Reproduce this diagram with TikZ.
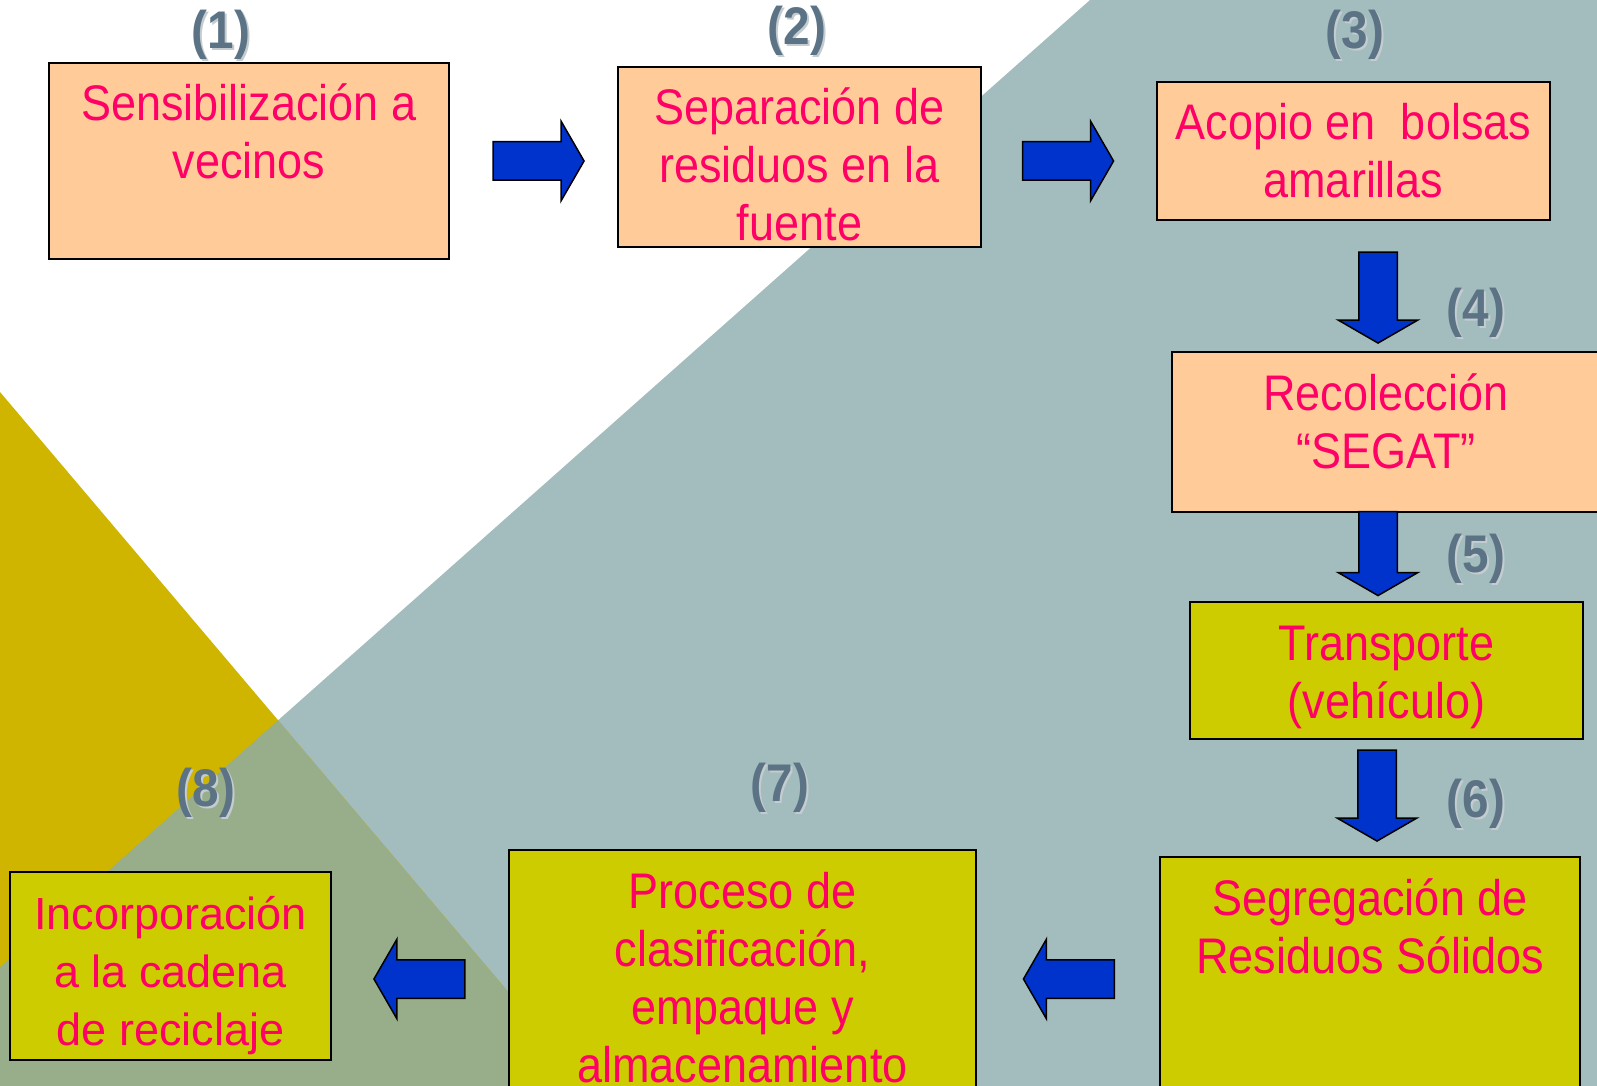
\documentclass[tikz,border=0pt]{standalone}
\usepackage{fontspec}
\usepackage{tikz}
\usetikzlibrary{shapes,arrows}
\usetikzlibrary{positioning}
\newfontfamily\condfont[FakeStretch=0.9]{Liberation Sans}
\newfontfamily\arialfont{Liberation Sans}
\definecolor{peach}{HTML}{FFCC99}
\definecolor{lime}{HTML}{CCCC00}
\definecolor{pinktext}{HTML}{FF0066}
\definecolor{arrowblue}{HTML}{0033CC}
\definecolor{numgrey}{HTML}{5B7384}
\definecolor{numshadow}{HTML}{C4CCD0}
\definecolor{bgteal}{HTML}{A3BCBE}
\definecolor{bgyellow}{HTML}{CFB400}
\definecolor{bgolive}{HTML}{98AE8B}
\tikzset{x=1pt, y=-1pt, font=\condfont}
\tikzstyle{box} = [draw, line width=2pt, anchor=north west, inner sep=0pt, align=flush center, text=pinktext, text height=58pt, font=\condfont\fontsize{50}{58}\selectfont]
\tikzstyle{peachbox} = [box, fill=peach]
\tikzstyle{limebox} = [box, fill=lime]
\tikzstyle{blockarrow} = [draw, line width=1.5pt, fill=arrowblue, single arrow, inner sep=18.5pt, minimum height=91pt, single arrow head extend=20.5pt, single arrow tip angle=120, single arrow head indent=0pt]
\tikzstyle{number} = [text=numgrey, font=\condfont\bfseries\fontsize{53}{53}\selectfont]
\newcommand{\numtxt}[1]{\rlap{\kern2pt\raisebox{-2pt}{\color{numshadow}#1}}#1}

\begin{document}
\begin{tikzpicture}
		\path [use as bounding box, clip] (0,0) rectangle (1597,1086);
		% background
		\fill [bgteal] (1090,0) -- (1597,0) -- (1597,1086) -- (0,1086) -- (0,967) -- cycle;
		\fill [bgyellow] (0,392) -- (588,1086) -- (0,1086) -- cycle;
		\begin{scope}
			\clip (0,392) -- (588,1086) -- (0,1086) -- cycle;
			\fill [bgolive] (1090,0) -- (1597,0) -- (1597,1086) -- (0,1086) -- (0,967) -- cycle;
		\end{scope}

		\node [peachbox, text width=400pt, text depth=138pt] (sensibilizacion) at (48,62) {Sensibilización a\\vecinos};
		\node [peachbox, text width=363pt, text depth=122pt] (separacion) at (617,66) {Separación de\\residuos en la\\fuente};
		\node [peachbox, text width=393pt, text depth=80pt] (acopio) at (1156,81) {Acopio en\ \ bolsas\\amarillas};
		\node [peachbox, text width=428pt, text depth=102pt] (recoleccion) at (1171,351) {Recolección\\“SEGAT”};
		\node [limebox, text width=393pt, text depth=79pt] (transporte) at (1189,601) {Transporte\\(vehículo)};
		\node [limebox, text width=420pt, text depth=186pt] (segregacion) at (1159,856) {Segregación de\\Residuos Sólidos};
		\node [limebox, text width=467pt, text depth=200pt] (proceso) at (508,849) {Proceso de\\clasificación,\\empaque y\\almacenamiento};
		\node [limebox, text width=321pt, text height=57pt, text depth=131pt, font=\arialfont\fontsize{45}{58}\selectfont] (incorporacion) at (9,871) {Incorporación\\a la cadena\\de reciclaje};

		\node [number] (n1) at (221,36) {\numtxt{(1)}};
		\node [number] (n2) at (797,32) {\numtxt{(2)}};
		\node [number] (n3) at (1355,36) {\numtxt{(3)}};
		\node [number] (n4) at (1476,314) {\numtxt{(4)}};
		\node [number] (n5) at (1476,560) {\numtxt{(5)}};
		\node [number] (n6) at (1476,805) {\numtxt{(6)}};
		\node [number] (n7) at (780,789) {\numtxt{(7)}};
		\node [number] (n8) at (206,794) {\numtxt{(8)}};

		\node [blockarrow] (a12) at ([xshift=83pt]sensibilizacion.east) {};
		\node [blockarrow] (a23) at ([xshift=80.5pt, yshift=-4pt]separacion.east) {};
		\node [blockarrow, rotate=-90] (a34) at ([xshift=-8pt, yshift=59pt]recoleccion.north) {};
		\node [blockarrow, rotate=-90, minimum height=84pt] (a45) at ([xshift=-8pt, yshift=-35pt]recoleccion.south) {};
		\node [blockarrow, rotate=-90] (a56) at ([xshift=-9.5pt, yshift=-50pt]transporte.south) {};
		\node [blockarrow, rotate=180] (a67) at ([xshift=-84.5pt]segregacion.west) {};
		\node [blockarrow, rotate=180] (a78) at ([xshift=-83pt]proceso.west) {};
	\end{tikzpicture}
\end{document}
